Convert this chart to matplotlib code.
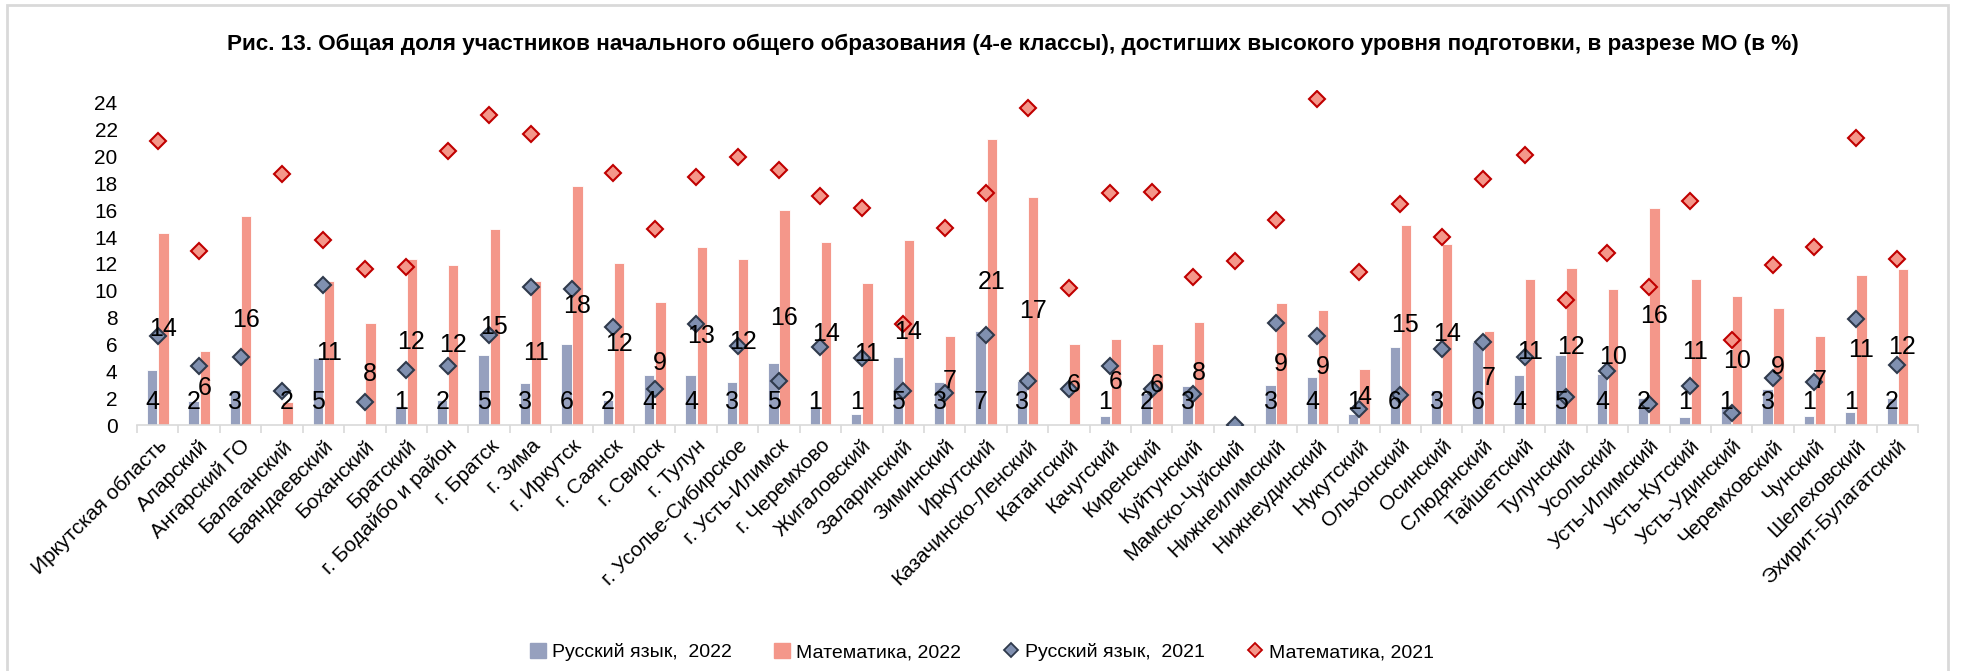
import matplotlib
matplotlib.use('Agg')
import matplotlib.pyplot as plt
import matplotlib.lines as mlines
import matplotlib.patches as mpatches
import numpy as np

plt.rcParams['font.family'] = ['Liberation Sans', 'DejaVu Sans']

TITLE = ('Рис. 13. Общая доля участников начального общего образования (4-е классы), '
         'достигших высокого уровня подготовки, в разрезе МО (в %)')

CATEGORIES = ['Иркутская область', 'Аларский', 'Ангарский ГО', 'Балаганский', 'Баяндаевский',
              'Боханский', 'Братский', 'г. Бодайбо и район', 'г. Братск', 'г. Зима',
              'г. Иркутск', 'г. Саянск', 'г. Свирск', 'г. Тулун', 'г. Усолье-Сибирское',
              'г. Усть-Илимск', 'г. Черемхово', 'Жигаловский', 'Заларинский', 'Зиминский',
              'Иркутский', 'Казачинско-Ленский', 'Катангский', 'Качугский', 'Киренский',
              'Куйтунский', 'Мамско-Чуйский', 'Нижнеилимский', 'Нижнеудинский', 'Нукутский',
              'Ольхонский', 'Осинский', 'Слюдянский', 'Тайшетский', 'Тулунский',
              'Усольский', 'Усть-Илимский', 'Усть-Кутский', 'Усть-Удинский', 'Черемховский',
              'Чунский', 'Шелеховский', 'Эхирит-Булагатский']

nan = np.nan
RUS_2022 = [4.1, 1.8, 2.6, nan, 5.0, nan, 1.4, 1.9, 5.2, 3.1,
            6.0, 1.9, 3.7, 3.7, 3.2, 4.6, 1.4, 0.8, 5.1, 3.2,
            7.0, 3.3, nan, 0.7, 2.4, 2.9, nan, 3.0, 3.6, 0.8,
            5.8, 2.6, 6.2, 3.7, 5.2, 3.8, 2.0, 0.6, 1.4, 2.7,
            0.7, 1.0, 2.0]
MATH_2022 = [14.3, 5.5, 15.6, 1.7, 10.7, 7.6, 12.4, 11.9, 14.6, 10.7,
             17.8, 12.1, 9.2, 13.3, 12.4, 16.0, 13.6, 10.6, 13.8, 6.6,
             21.3, 17.0, 6.0, 6.4, 6.0, 7.7, nan, 9.1, 8.6, 4.2,
             14.9, 13.5, 7.0, 10.9, 11.7, 10.1, 16.2, 10.9, 9.6, 8.7,
             6.6, 11.2, 11.6]
RUS_2021 = [6.6, 4.4, 5.1, 2.5, 10.4, 1.7, 4.1, 4.4, 6.7, 10.3,
            10.1, 7.3, 2.7, 7.5, 5.9, 3.3, 5.8, 5.0, 2.5, 2.4,
            6.7, 3.3, 2.7, 4.4, 2.7, 2.3, 0.0, 7.6, 6.6, 1.2,
            2.2, 5.7, 6.2, 5.1, 2.1, 4.0, 1.6, 2.9, 0.9, 3.5,
            3.2, 7.9, 4.5]
MATH_2021 = [21.2, 13.0, nan, 18.7, 13.8, 11.6, 11.8, 20.4, 23.1, 21.7,
             nan, 18.8, 14.6, 18.5, 20.0, 19.0, 17.1, 16.2, 7.5, 14.7,
             17.3, 23.6, 10.2, 17.3, 17.4, 11.0, 12.2, 15.3, 24.3, 11.4,
             16.5, 14.0, 18.3, 20.1, 9.3, 12.8, 10.3, 16.7, 6.3, 11.9,
             13.3, 21.4, 12.4]

LABELS = ['Русский язык,  2022', 'Математика, 2022', 'Русский язык,  2021', 'Математика, 2021']
YTICKS = list(range(0, 25, 2))

C_RUS = '#96a0be'
C_MATH = '#f4978a'
C_RUS_EDGE = '#2f3a4c'
C_MATH_EDGE = '#c00000'

fig = plt.figure(figsize=(19.66, 6.71), dpi=100)
ax = fig.add_axes([0.0697, 0.3666, 0.9059, 0.5000])

x = np.arange(len(CATEGORIES))
w = 0.25
rus22 = np.array(RUS_2022)
math22 = np.array(MATH_2022)

ax.bar(x - w / 2 - 0.01, rus22, width=w, color=C_RUS, edgecolor='white', linewidth=0.6, zorder=2)
ax.bar(x + w / 2 + 0.01, math22, width=w, color=C_MATH, edgecolor='white', linewidth=0.6, zorder=2)

ax.plot(x, RUS_2021, linestyle='None', marker='D', markersize=8.5, markerfacecolor='#8090b0',
        markeredgecolor=C_RUS_EDGE, markeredgewidth=1.5, zorder=4)
ax.plot(x, MATH_2021, linestyle='None', marker='D', markersize=8.5, markerfacecolor=C_MATH,
        markeredgecolor=C_MATH_EDGE, markeredgewidth=1.5, zorder=4)


def lbl(v):
    return str(int(v + 0.5))


# value labels: russian at the base, maths at the middle of the bar
for xi, v in zip(x, rus22):
    if not np.isnan(v):
        ax.text(xi - w / 2, 1.74, lbl(v), ha='center', va='center', fontsize=18, zorder=5)
for xi, v in zip(x, math22):
    if not np.isnan(v):
        ax.text(xi + w / 2, max(v / 2, 1.74), lbl(v), ha='center', va='center', fontsize=18, zorder=5)

ax.set_xlim(-0.5, len(CATEGORIES) - 0.5)
ax.set_ylim(0, 25)
ax.set_yticks(YTICKS)
ax.set_yticklabels(YTICKS, fontsize=15)
ax.tick_params(axis='y', length=0, pad=14)

ax.set_xticks(x)
ax.set_xticklabels(CATEGORIES, rotation=45, ha='right', va='top', rotation_mode='anchor', fontsize=15)
ax.tick_params(axis='x', length=0, pad=8)
ax.set_xticks(np.arange(-0.5, len(CATEGORIES)), minor=True)
ax.tick_params(axis='x', which='minor', length=6, color='#d9d9d9', width=1.2)

for side in ['left', 'right', 'top']:
    ax.spines[side].set_visible(False)
ax.spines['bottom'].set_color('#d9d9d9')
ax.spines['bottom'].set_linewidth(1.2)

fig.text(0.515, 0.934, TITLE, ha='center', va='center', fontsize=16.2, weight='bold')

handles = [mpatches.Patch(color=C_RUS, label=LABELS[0]),
           mpatches.Patch(color=C_MATH, label=LABELS[1]),
           mlines.Line2D([], [], linestyle='None', marker='D', markersize=7.5, markerfacecolor='#8090b0',
                         markeredgecolor=C_RUS_EDGE, markeredgewidth=1.3, label=LABELS[2]),
           mlines.Line2D([], [], linestyle='None', marker='D', markersize=7.5, markerfacecolor=C_MATH,
                         markeredgecolor=C_MATH_EDGE, markeredgewidth=1.3, label=LABELS[3])]
fig.legend(handles=handles, loc='center', bbox_to_anchor=(0.4995, 0.028), ncol=4, frameon=False,
           fontsize=14, handlelength=0.8, handleheight=0.8, handletextpad=0.3, columnspacing=2.2)

fig.patches.append(mpatches.Rectangle((0.0036, -0.01), 0.987, 1.003, transform=fig.transFigure,
                                      fill=False, edgecolor='#d9d9d9', linewidth=2))

fig.savefig('out.png', dpi=100)
